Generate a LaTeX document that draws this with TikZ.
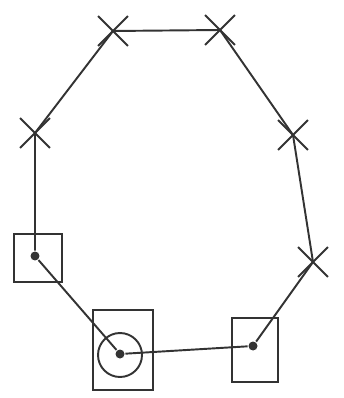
\documentclass[tikz,border=0pt]{standalone}
\usepackage{tikz}
\usetikzlibrary{shapes.misc}

\begin{document}
\begin{tikzpicture}[
      x=0.02cm, y=-0.02cm,
      line width=1.1pt,
      crossnode/.style={cross out, draw=black!80, line width=1.1pt, minimum size=0.56cm},
      dotnode/.style={circle, fill=black!80, inner sep=0pt, minimum size=0.18cm},
      boxnode/.style={rectangle, draw=black!80, line width=1.2pt, inner sep=0pt}
    ]
      \useasboundingbox (0,0) rectangle (344,398);
      % corner marks
      \node[crossnode] (tl) at (113,31) {};
      \node[crossnode] (tr) at (220,30) {};
      \node[crossnode] (l) at (35,133) {};
      \node[crossnode] (r) at (293,135) {};
      \node[crossnode] (rl) at (313,262) {};
      % boxes with dots
      \node[boxnode, minimum width=0.96cm, minimum height=0.96cm] (lbox) at (38,258) {};
      \node[dotnode] (ld) at (35,256) {};
      \node[boxnode, minimum width=1.2cm, minimum height=1.6cm] (cbox) at (123,350) {};
      \node[circle, draw=black!80, line width=1.1pt, minimum size=0.88cm] (cring) at (120,355) {};
      \node[dotnode] (cd) at (120,354) {};
      \node[boxnode, minimum width=0.92cm, minimum height=1.28cm] (rbox) at (255,350) {};
      \node[dotnode] (rd) at (253,346) {};
      % the cycle
      \draw[black!80] (tl.center) -- (tr.center) -- (r.center) -- (rl.center) -- (rd);
      \draw[black!80] (rd) -- (cd) -- (ld) -- (l.center) -- (tl.center);
    \end{tikzpicture}
\end{document}
